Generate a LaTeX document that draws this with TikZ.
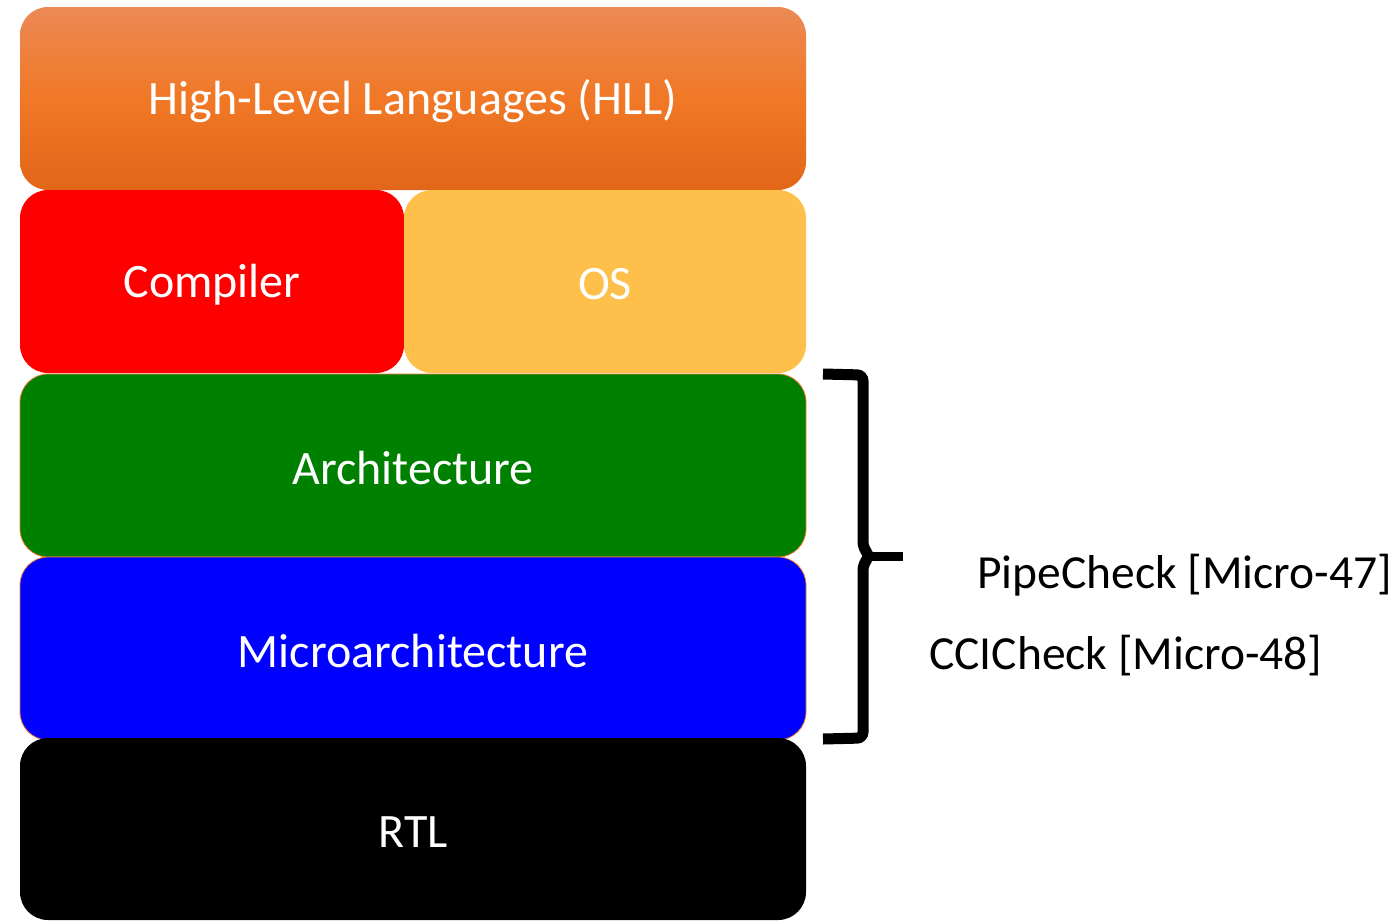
\documentclass[tikz,border=0pt]{standalone}
\usepackage{fontspec}
\setmainfont{Carlito}
\definecolor{hlltop}{RGB}{236,138,86}
\definecolor{hllmid}{RGB}{240,120,38}
\definecolor{hllbot}{RGB}{226,102,24}
\definecolor{osfill}{RGB}{254,192,74}
\definecolor{archfill}{RGB}{0,128,0}
\definecolor{uarchfill}{RGB}{0,0,255}
\definecolor{edge}{RGB}{237,125,49}
% sets a label a little lower without changing its box
\newcommand{\lowered}[1]{\raisebox{-3pt}[\height][\depth]{#1}}
\tikzset{
  layer/.style={rounded corners=28pt, inner sep=0pt, text=white,
    font=\fontsize{48}{56}\selectfont, minimum height=183pt},
  note/.style={anchor=west, inner sep=0pt, text=black,
    font=\fontsize{47.5}{56}\selectfont},
  bracestroke/.style={line width=11pt, rounded corners=6pt},
}
\begin{document}
\begin{tikzpicture}[x=1pt,y=-1pt]
\useasboundingbox (0,0) rectangle (1394,921);
% stack of layers, top to bottom
\node[layer, minimum width=786pt, top color=hlltop, bottom color=hllbot, middle color=hllmid]
  (hll) at (413,98.5) {\lowered{High-Level Languages (HLL)}};
\node[layer, minimum width=384pt, fill=red] (comp) at (212,281.5) {\lowered{Compiler}};
\node[layer, minimum width=402pt, fill=osfill] (os) at (605,281.5) {\lowered{OS}};
\node[layer, minimum width=786pt, fill=archfill, draw=edge, line width=0.8pt] (arch) at (413,465.5) {\lowered{Architecture}};
\node[layer, minimum width=786pt, fill=uarchfill, draw=edge, line width=0.8pt] (uarch) at (413,648.5) {\lowered{Microarchitecture}};
\node[layer, minimum width=786pt, minimum height=182pt, fill=black] (rtl) at (413,829) {\lowered{RTL}};
% brace spanning architecture and microarchitecture
\coordinate (bt) at (823,374);
\coordinate (bb) at (823,739);
\coordinate (tip) at (903,556);
\draw[bracestroke] (bt) -- (863,375) -- (863,548) -- (870,556) -- (863,564) -- (863,738) -- (bb);
\draw[line width=9pt] (866,556) -- (tip);
% tool labels
\node[note] (pipe) at (977,575) {PipeCheck [Micro-47]};
\node[note] (cci) at (929,656) {CCICheck [Micro-48]};
\end{tikzpicture}
\end{document}
